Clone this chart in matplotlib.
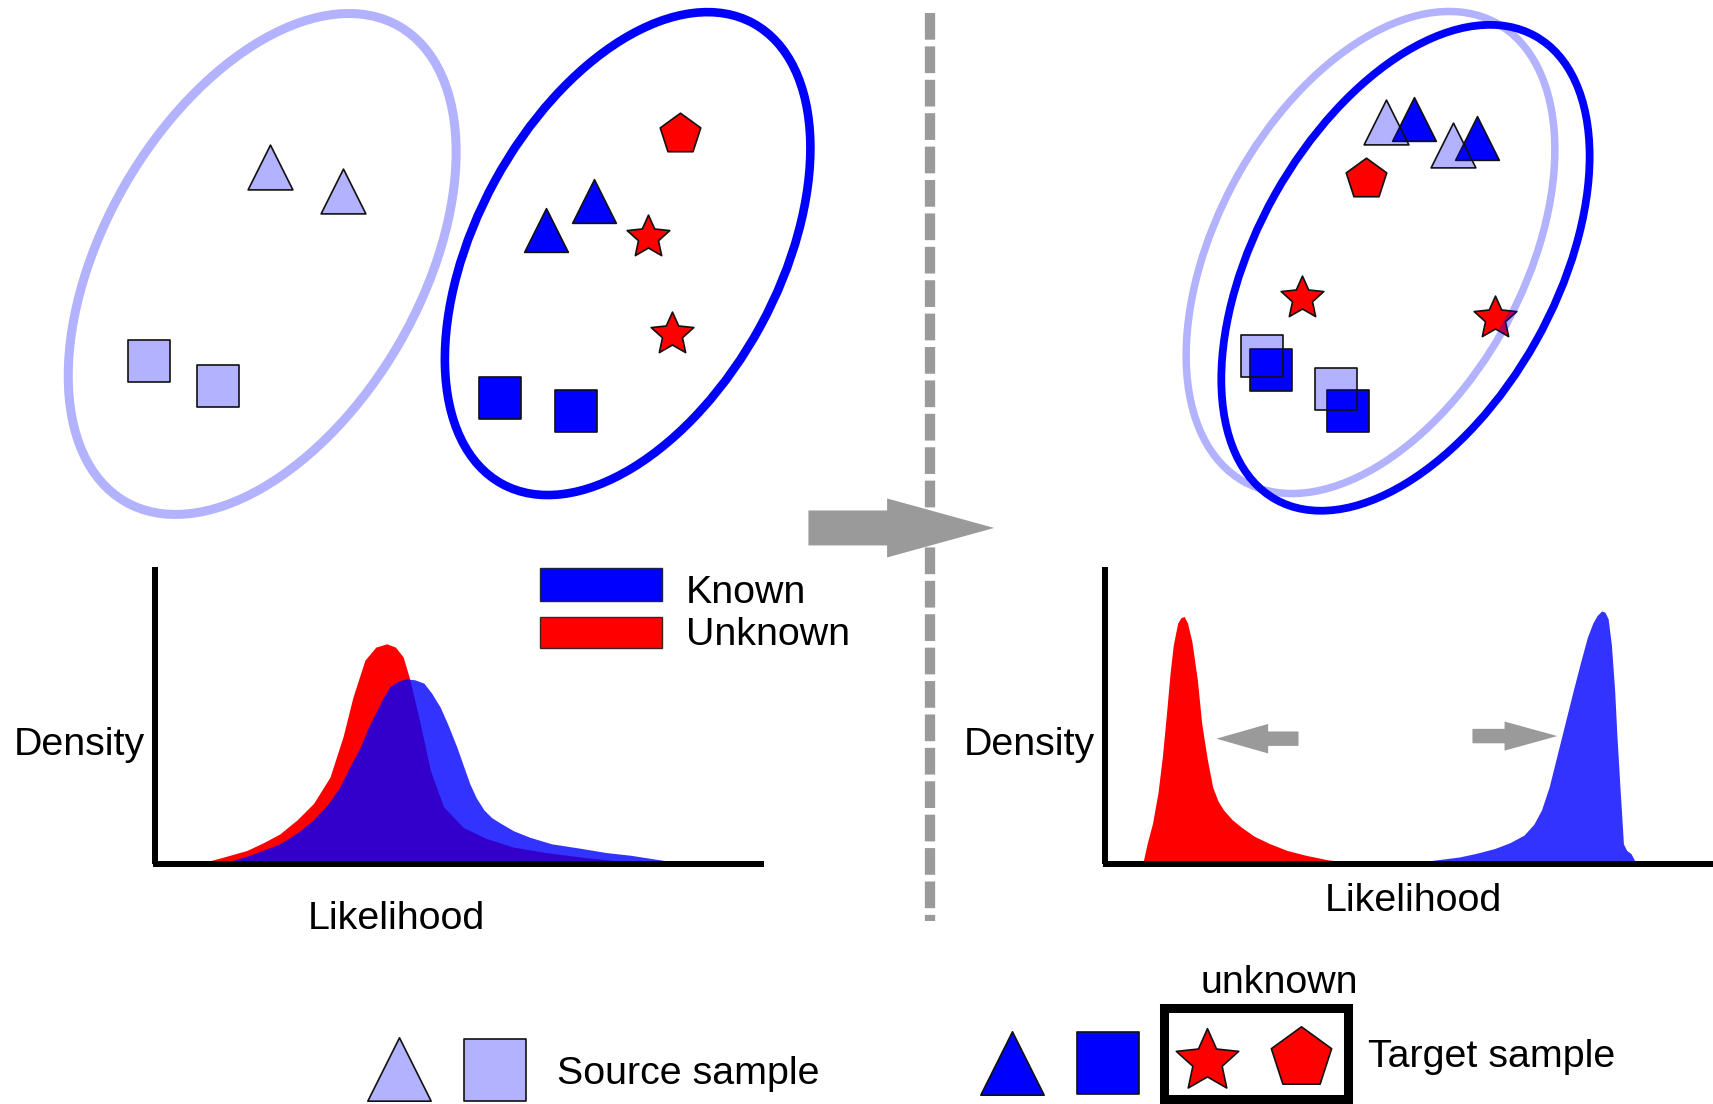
import matplotlib
matplotlib.use('Agg')
import matplotlib.pyplot as plt
from matplotlib.patches import Ellipse, Rectangle
from matplotlib.path import Path

plt.rcParams['font.family'] = ['Liberation Sans', 'DejaVu Sans']

# drawing units (the whole canvas is W x H units)
W, H = 1568, 1010
PT = 1713 / W * 0.72   # points per drawing unit

BLUE = '#0000FF'
RED = '#FF0000'
LIGHT = '#B2B2FF'
LIGHT_A = (0, 0, 1, 0.3)
GREY = '#9A9A9A'
FS = 28.4
STAR = Path.unit_regular_star(5, 0.47)   # a bit fatter than matplotlib's '*'

# ---- sample positions, before adaptation ----
src_tri = [(247.5, 152.5), (314, 174.5)]
src_sq = [(136, 330), (200, 353)]
tgt_tri = [(500, 210), (544, 184)]
tgt_sq = [(458, 364), (527, 376)]
unk_star = [(593, 216.4), (615, 305.4)]
unk_pent = [(622.5, 123)]

# ---- sample positions, after adaptation ----
ad_src_tri = [(1268.5, 111.7), (1329.8, 132.3)]
ad_tgt_tri = [(1294, 109), (1351.8, 125.9)]
ad_src_sq = [(1154.9, 325.7), (1222.9, 356.2)]
ad_tgt_sq = [(1163, 338.7), (1234, 376.4)]
ad_star = [(1191.6, 272.7), (1368, 290.7)]
ad_pent = [(1250.6, 163.6)]

# cluster ellipses: centre x, centre y, width, height, angle
ell_src = (240, 241.5, 290, 502, 30)
ell_tgt = (574.5, 232, 277, 480, 28.6)
ell_ad_src = (1254.5, 231, 281, 479, 28.8)
ell_ad_tgt = (1286.5, 245, 274, 486, 29.3)

# ---- density curves (likelihood position, height above axis) ----
before_unk_x = [183, 205, 226, 241, 256, 272, 287, 302, 314, 323, 334, 344, 354,
                362, 369, 375, 384, 394, 406, 424, 445, 470, 500, 531, 560, 592, 610]
before_unk_h = [0, 6, 12, 19, 27, 40, 55, 79, 116, 152, 186, 198, 201,
                198, 189, 169, 131, 85, 52, 33, 23, 15, 10, 6, 3, 1, 0]
before_kn_x = [204, 230, 256, 272, 287, 300, 311, 320, 330, 337, 345, 351, 357, 365,
               372, 380, 388, 395, 403, 410, 418, 424, 430, 436, 443, 450, 458,
               470, 485, 505, 531, 555, 577, 600, 617, 625]
before_kn_h = [0, 8, 18, 28, 40, 54, 70, 88, 107, 124, 140, 152, 162, 167,
               169, 168, 165, 156, 143, 127, 107, 90, 73, 60, 49, 42, 37,
               30, 24, 18, 14, 10, 7.6, 4, 1.5, 0]

after_unk_x = [1046, 1050, 1055, 1060, 1064, 1068, 1071, 1074, 1078, 1081, 1084, 1087,
               1091, 1096, 1100, 1105, 1110, 1115, 1120, 1128, 1136, 1148, 1162,
               1178, 1195, 1215, 1238, 1250]
after_unk_h = [0, 18, 37, 65, 98, 140, 174, 200, 220, 225, 226, 220,
               203, 168, 128, 96, 70, 57, 49, 40, 33.5, 25, 18.3,
               12, 7.6, 3.5, 0.5, 0]
after_kn_x = [1290, 1312, 1336, 1352, 1368, 1382, 1395, 1404, 1411, 1418, 1424, 1432,
              1440, 1447, 1453, 1458, 1462, 1466, 1469, 1472, 1475, 1478, 1480,
              1483, 1485, 1486, 1489, 1493, 1495, 1498]
after_kn_h = [0, 3, 6, 9.5, 13.7, 19, 26, 36, 49, 70, 94, 126,
              158, 185, 207, 220, 227, 231, 230, 224, 200, 158, 118,
              67, 35, 18, 12, 9, 5, 0]

# density axes: x of y-axis, x end of x-axis, baseline y, top y
dens_left = (142, 699.5, 790, 518.7)
dens_right = (1011.3, 1568, 790, 518.7)

# ---- bottom legend samples ----
leg_src_tri = [(365, 978.4)]
leg_src_sq = [(452.7, 979)]
leg_tgt_tri = [(926, 972.5)]
leg_tgt_sq = [(1014.2, 972.6)]
leg_star = [(1105, 970.8)]
leg_pent = [(1191.2, 968.1)]


def size(ms):
    return (ms * PT) ** 2


def scat(ax, pts, marker, ms, face, z):
    xs = [p[0] for p in pts]
    ys = [p[1] for p in pts]
    ax.scatter(xs, ys, s=size(ms), marker=marker, facecolors=face,
               edgecolors='#111111', linewidths=1.2, zorder=z)


def ellipse(ax, e, color, lw, z):
    cx, cy, w, h, a = e
    ax.add_patch(Ellipse((cx, cy), w, h, angle=a, fill=False,
                         edgecolor=color, linewidth=lw, zorder=z))


def density_axes(ax, d):
    x0, x1, base, top = d
    ax.plot([x0, x0], [top, base], color='black', lw=4.3, zorder=6,
            solid_capstyle='butt')
    ax.plot([x0 - 2, x1], [base, base], color='black', lw=4.3, zorder=6,
            solid_capstyle='butt')


fig = plt.figure(figsize=(17.13, 11.04), dpi=100)
ax = fig.add_axes([0, 0, 1, 1])
ax.set_xlim(0, W)
ax.set_ylim(H, 0)
ax.axis('off')

# ---- left: before ----
ellipse(ax, ell_src, LIGHT, 6.5, 1)
ellipse(ax, ell_tgt, BLUE, 6.2, 1)
scat(ax, src_tri, '^', 41, LIGHT, 3)
scat(ax, src_sq, 's', 39, LIGHT, 3)
scat(ax, tgt_tri, '^', 40, BLUE, 3)
scat(ax, tgt_sq, 's', 38, BLUE, 3)
scat(ax, unk_star, STAR, 41, RED, 3)
scat(ax, unk_pent, 'p', 39, RED, 3)

# ---- right: after ----
ellipse(ax, ell_ad_tgt, BLUE, 5.6, 1)
scat(ax, ad_tgt_tri, '^', 40, BLUE, 3)
scat(ax, ad_tgt_sq, 's', 38, BLUE, 3)
scat(ax, ad_star, STAR, 41, RED, 3)
scat(ax, ad_pent, 'p', 39, RED, 3)
cx, cy, w, h, a = ell_ad_src
ax.add_patch(Ellipse((cx, cy), w, h, angle=a, fill=False,
                     edgecolor=LIGHT_A, linewidth=5.4, zorder=4))
scat(ax, ad_src_tri, '^', 41, LIGHT_A, 5)
scat(ax, ad_src_sq, 's', 39, LIGHT_A, 5)

# ---- separator and big arrow ----
ax.arrow(740, 483, 170, 0, width=32, head_width=54, head_length=98,
         length_includes_head=True, fc=GREY, ec='none', zorder=2)
ax.plot([851, 851], [12, 843], color=GREY, lw=7.4, linestyle=(0, (2.6, 0.65)),
        zorder=3)

# ---- left density ----
base = dens_left[2]
ax.fill_between(before_unk_x, base, [base - v for v in before_unk_h],
                color=RED, lw=0, zorder=2)
ax.fill_between(before_kn_x, base, [base - v for v in before_kn_h],
                color=BLUE, alpha=0.8, lw=0, zorder=3)
density_axes(ax, dens_left)
ax.add_patch(Rectangle((494.5, 520), 111.5, 30, fc=BLUE, ec='#222244', lw=1))
ax.add_patch(Rectangle((494.5, 564.5), 111.5, 28.5, fc=RED, ec='#442222', lw=1))
ax.text(627.6, 551.6, 'Known', fontsize=FS, va='baseline')
ax.text(627.6, 590.4, 'Unknown', fontsize=FS, va='baseline')
ax.text(12.5, 691, 'Density', fontsize=FS, va='baseline')
ax.text(362.8, 849.7, 'Likelihood', fontsize=FS, va='baseline', ha='center')

# ---- right density ----
base = dens_right[2]
ax.fill_between(after_unk_x, base, [base - v for v in after_unk_h],
                color=RED, lw=0, zorder=2)
ax.fill_between(after_kn_x, base, [base - v for v in after_kn_h],
                color=BLUE, alpha=0.8, lw=0, zorder=3)
density_axes(ax, dens_right)
ax.arrow(1188.6, 675.8, -75.2, 0, width=13.2, head_width=27, head_length=47.4,
         length_includes_head=True, fc=GREY, ec='none', zorder=4)
ax.arrow(1347.8, 673.4, 77.7, 0, width=13.2, head_width=26.6, head_length=48.3,
         length_includes_head=True, fc=GREY, ec='none', zorder=4)
ax.text(1002.3, 691, 'Density', fontsize=FS, va='baseline', ha='right')
ax.text(1293.8, 833, 'Likelihood', fontsize=FS, va='baseline', ha='center')

# ---- bottom legend ----
scat(ax, leg_src_tri, '^', 58, LIGHT, 3)
scat(ax, leg_src_sq, 's', 57, LIGHT, 3)
scat(ax, leg_tgt_tri, '^', 58, BLUE, 3)
scat(ax, leg_tgt_sq, 's', 56, BLUE, 3)
scat(ax, leg_star, STAR, 60, RED, 3)
scat(ax, leg_pent, 'p', 58, RED, 3)
ax.add_patch(Rectangle((1065.5, 922.4), 168.1, 82.6, fill=False,
                       ec='black', lw=6.5, zorder=4))
ax.text(1171, 908.6, 'unknown', fontsize=FS, va='baseline', ha='center')
ax.text(1251.8, 976.4, 'Target sample', fontsize=FS, va='baseline')
ax.text(509.7, 991.5, 'Source sample', fontsize=FS, va='baseline')

fig.savefig('out.png', dpi=100)
